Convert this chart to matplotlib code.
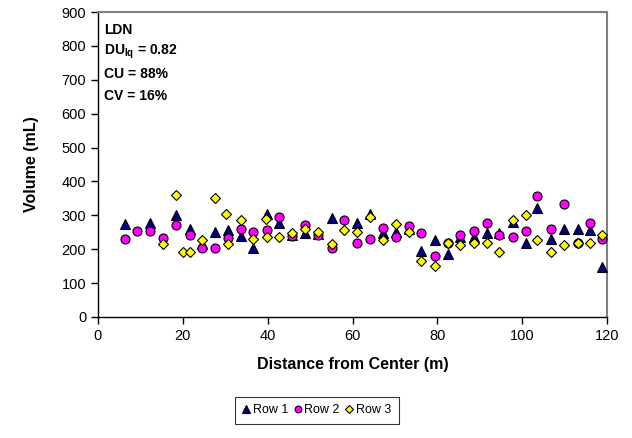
import matplotlib
matplotlib.use("Agg")
import matplotlib.pyplot as plt
import numpy as np

plt.rcParams['font.family'] = ['Liberation Sans', 'DejaVu Sans']
plt.rcParams['mathtext.fontset'] = 'custom'
plt.rcParams['mathtext.rm'] = 'Liberation Sans'
plt.rcParams['mathtext.bf'] = 'Liberation Sans:bold'

# Row 1 (triangles)
row1_x = [6.3, 12.3, 18.4, 21.7, 24.5, 27.5, 30.7, 33.7, 36.6, 39.9, 42.7, 45.7,
          48.9, 51.9, 55.1, 61.0, 64.1, 67.3, 70.2, 73.4, 76.2, 79.5, 82.5, 85.4,
          88.6, 91.6, 94.6, 97.8, 100.8, 103.6, 106.8, 109.9, 113.1, 116.1, 118.9]
row1_y = [274, 276, 301, 259, 215, 251, 257, 239, 204, 304, 278, 242,
          249, 245, 292, 276, 304, 247, 252, 260, 196, 227, 186, 237,
          237, 247, 249, 281, 219, 323, 230, 259, 259, 257, 147]

# Row 2 (circles)
row2_x = [6.3, 9.1, 12.3, 15.4, 18.4, 21.7, 24.5, 27.5, 30.7, 33.7, 36.6, 39.9,
          42.7, 45.7, 48.9, 51.9, 55.1, 58.0, 61.0, 64.1, 67.3, 70.2, 73.4, 76.2,
          79.5, 82.5, 85.4, 88.6, 91.6, 94.6, 97.8, 100.8, 103.6, 106.8, 109.9,
          113.1, 116.1, 118.9]
row2_y = [229, 254, 254, 234, 271, 241, 204, 204, 232, 261, 250, 257,
          294, 240, 271, 242, 204, 285, 218, 229, 262, 235, 270, 247,
          181, 219, 242, 254, 276, 241, 235, 254, 357, 259, 334,
          219, 276, 229]

# Row 3 (diamonds)
row3_x = [15.4, 18.4, 20.1, 21.7, 24.5, 27.5, 30.2, 30.7, 33.7, 36.6, 39.6, 39.9,
          42.7, 45.7, 48.9, 51.9, 55.1, 58.0, 61.0, 64.1, 67.3, 70.2, 73.4, 76.2,
          79.5, 82.5, 85.4, 88.6, 91.6, 94.6, 97.8, 100.8, 103.6, 106.8, 109.9,
          113.1, 116.1, 118.9]
row3_y = [215, 361, 192, 192, 228, 350, 303, 216, 286, 230, 288, 237,
          237, 247, 261, 252, 215, 257, 252, 294, 227, 274, 252, 165,
          150, 219, 212, 217, 219, 193, 286, 301, 227, 193, 213,
          219, 217, 242]

stats_lines = ["LDN", r"DU$_{\mathbf{lq}}$ = 0.82", "CU = 88%", "CV = 16%"]

fig = plt.figure(figsize=(6.32, 4.38), dpi=100)
ax = fig.add_axes([98/632, 1-317/438, (607-98)/632, (317-12)/438])

ms = 6.5
ax.plot(row1_x, row1_y, linestyle='none', marker='^', markersize=ms+0.5,
        markerfacecolor='#000080', markeredgecolor='black', markeredgewidth=0.8,
        label='Row 1', zorder=3)
ax.plot(row2_x, row2_y, linestyle='none', marker='o', markersize=ms,
        markerfacecolor='#FF00FF', markeredgecolor='black', markeredgewidth=0.8,
        label='Row 2', zorder=4)
ax.plot(row3_x, row3_y, linestyle='none', marker='D', markersize=ms-1.5,
        markerfacecolor='#FFFF00', markeredgecolor='black', markeredgewidth=0.8,
        label='Row 3', zorder=5)

ax.set_xlim(0, 120)
ax.set_ylim(0, 900)
ax.set_xticks(np.arange(0, 121, 20))
ax.set_yticks(np.arange(0, 901, 100))
ax.tick_params(direction='out', length=5, width=1, labelsize=10.5, colors='black')

for side in ['left', 'bottom']:
    ax.spines[side].set_color('black')
    ax.spines[side].set_linewidth(1)
for side in ['top', 'right']:
    ax.spines[side].set_color('#808080')
    ax.spines[side].set_linewidth(1.5)

ax.set_xlabel('Distance from Center (m)', fontsize=11.5, fontweight='bold', labelpad=10)
ax.set_ylabel('Volume (mL)', fontsize=11.5, fontweight='bold', labelpad=16)

for i, line in enumerate(stats_lines):
    ax.text(0.012, 0.94 - i * 0.072, line, transform=ax.transAxes,
            fontsize=10, fontweight='bold', va='center', ha='left')

leg = fig.legend(loc='center', bbox_to_anchor=(317/632, 1-410/438), ncol=3,
                 frameon=True, fancybox=False, edgecolor='black', fontsize=9,
                 handlelength=0.5, handletextpad=0.3, columnspacing=0.5,
                 markerscale=0.75, borderpad=0.6, borderaxespad=0)
leg.get_frame().set_linewidth(0.8)

fig.savefig('out.png', dpi=100)
